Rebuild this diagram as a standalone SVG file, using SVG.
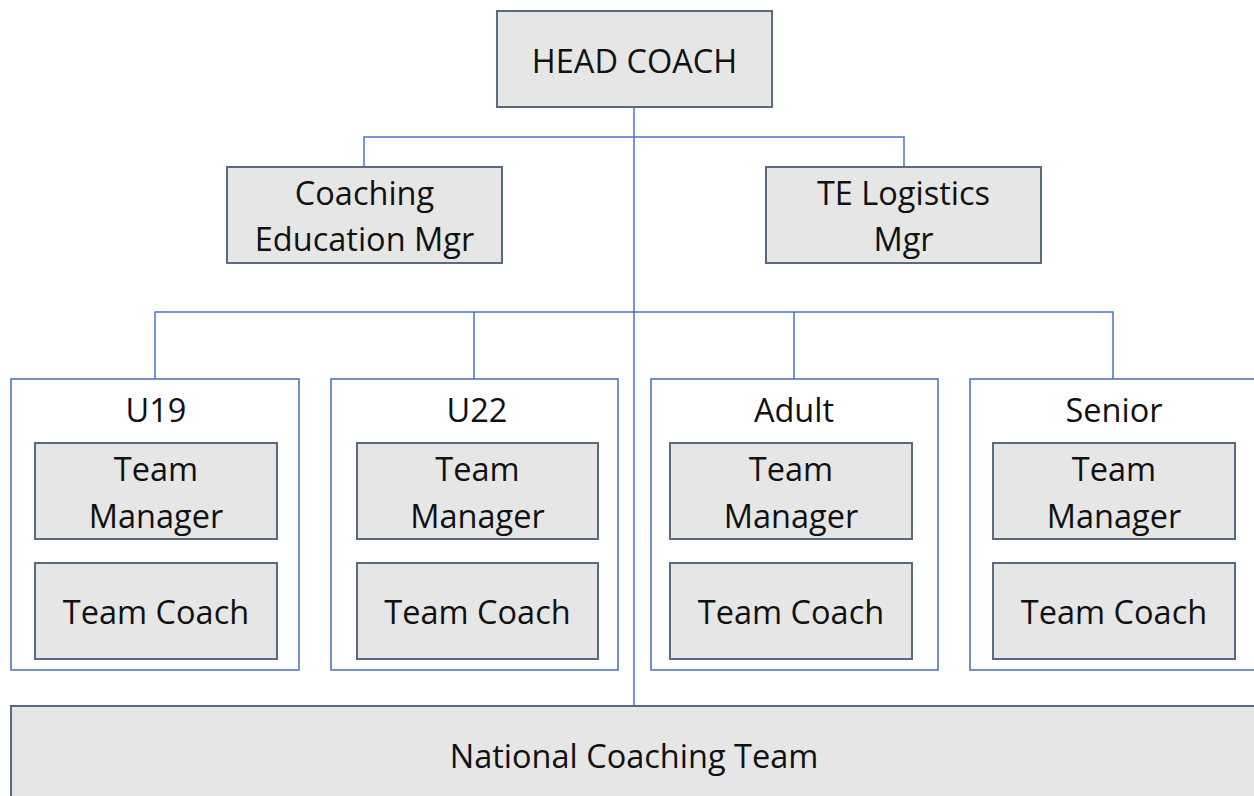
<svg xmlns="http://www.w3.org/2000/svg" width="1254" height="796" viewBox="0 0 1254 796">
<style>
.box{fill:#e6e6e6;stroke:#5a6a80;stroke-width:2}
.grp{fill:#ffffff;stroke:#4a6db0;stroke-width:1.5}
.ln{fill:none;stroke:#4a74c8;stroke-width:1.5}
text{font-family:"Open Sans","Liberation Sans",sans-serif;font-size:32.5px;fill:#111;text-anchor:middle}
</style>
<rect width="1254" height="796" fill="#fff"/>
<g id="connectors">
<path class="ln" d="M634,107 V706"/>
<path class="ln" d="M364,167 V137 H904 V167"/>
<path class="ln" d="M155,379 V312 H1113 V379 M474,312 V379 M794,312 V379"/>
</g>
<g id="head"><rect class="box" x="497" y="11" width="275" height="96"/><text x="634.5" y="73">HEAD COACH</text></g>
<g id="coachEdu"><rect class="box" x="227" y="167" width="275" height="96"/><text x="364.5" y="205">Coaching</text><text x="364.5" y="251">Education Mgr</text></g>
<g id="teLog"><rect class="box" x="766" y="167" width="275" height="96"/><text x="903.5" y="205">TE Logistics</text><text x="903.5" y="251">Mgr</text></g>
<g id="u19"><rect class="grp" x="11" y="379" width="288" height="291"/><text x="156" y="422">U19</text>
<rect class="box" x="35" y="443" width="242" height="96"/><text x="156" y="481">Team</text><text x="156" y="528">Manager</text>
<rect class="box" x="35" y="563" width="242" height="96"/><text x="156" y="624">Team Coach</text></g>
<g id="u22"><rect class="grp" x="331" y="379" width="287" height="291"/><text x="477" y="422">U22</text>
<rect class="box" x="357" y="443" width="241" height="96"/><text x="477.5" y="481">Team</text><text x="477.5" y="528">Manager</text>
<rect class="box" x="357" y="563" width="241" height="96"/><text x="477.5" y="624">Team Coach</text></g>
<g id="adult"><rect class="grp" x="651" y="379" width="287" height="291"/><text x="794" y="422">Adult</text>
<rect class="box" x="670" y="443" width="242" height="96"/><text x="791" y="481">Team</text><text x="791" y="528">Manager</text>
<rect class="box" x="670" y="563" width="242" height="96"/><text x="791" y="624">Team Coach</text></g>
<g id="senior"><rect class="grp" x="970" y="379" width="300" height="291"/><text x="1114" y="422">Senior</text>
<rect class="box" x="993" y="443" width="242" height="96"/><text x="1114" y="481">Team</text><text x="1114" y="528">Manager</text>
<rect class="box" x="993" y="563" width="242" height="96"/><text x="1114" y="624">Team Coach</text></g>
<g id="national"><rect class="box" x="11" y="706" width="1260" height="110"/><text x="634" y="768">National Coaching Team</text></g>
</svg>
